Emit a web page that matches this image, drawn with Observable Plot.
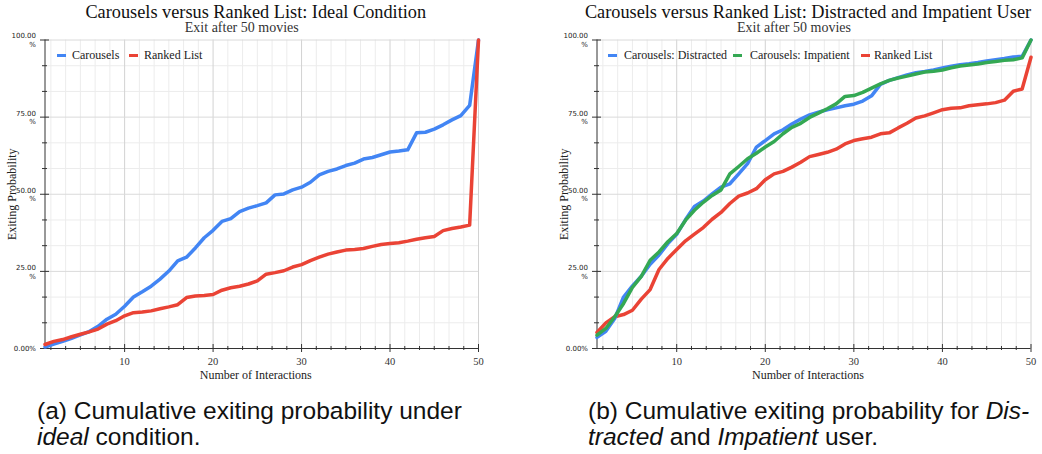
<!DOCTYPE html>
<html><head><meta charset="utf-8">
<script src="https://cdn.jsdelivr.net/npm/d3@7"></script>
<script src="https://cdn.jsdelivr.net/npm/@observablehq/plot@0.6"></script>
<style>
body{margin:0;background:#fff;}
#wrap{position:relative;width:1042px;height:454px;overflow:hidden;background:#fff;}
.chart{position:absolute;top:0;}
.lg{position:absolute;font:12px/14px "Liberation Serif",serif;color:#222;white-space:nowrap;}
.sw{position:absolute;height:3px;width:9px;}
.cap{position:absolute;font:24.5px/26px "Liberation Sans",Arial,sans-serif;color:#111;white-space:nowrap;}
</style></head><body><div id="wrap">
<div id="left" class="chart" style="left:0"></div>
<div id="right" class="chart" style="left:520px"></div>
<div id="legends"></div>
<div class="cap" style="left:37px;top:398px">(a) Cumulative exiting probability under<br><i>ideal</i> condition.</div>
<div class="cap" style="left:588px;top:398px">(b) Cumulative exiting probability for <i>Dis-</i><br><i>tracted</i> and <i>Impatient</i> user.</div>
</div>
<script>
const interactions = [1,2,3,4,5,6,7,8,9,10,11,12,13,14,15,16,17,18,19,20,21,22,23,24,25,26,27,28,29,30,31,32,33,34,35,36,37,38,39,40,41,42,43,44,45,46,47,48,49,50];

const idealCarousels = [0.5,1.4,2.3,3.3,4.4,5.5,7.2,9.5,11.1,13.7,
  16.7,18.4,20.2,22.5,25.1,28.4,29.6,32.6,35.9,38.3,
  41.2,42.1,44.4,45.5,46.3,47.2,49.8,50.1,51.4,52.3,
  53.9,56.3,57.4,58.2,59.3,60.1,61.4,61.9,62.8,63.7,
  64.0,64.4,69.9,70.1,71.1,72.5,74.1,75.5,78.8,100];
const idealRankedList = [1.3,2.3,2.9,3.8,4.6,5.4,6.3,7.9,9.0,10.6,
  11.6,11.8,12.2,12.9,13.5,14.2,16.5,17.0,17.2,17.5,
  18.9,19.7,20.2,20.9,21.9,24.1,24.6,25.2,26.4,27.2,
  28.5,29.6,30.6,31.3,31.9,32.1,32.4,33.1,33.7,34.0,
  34.3,34.8,35.4,35.9,36.3,38.2,38.9,39.4,40.0,100];

const distractedCarousels = [3.6,5.6,9.7,16.7,20.3,23.4,27.3,30.3,34.0,37.0,
  41.8,46.0,47.8,50.1,52.3,53.4,56.6,59.9,65.3,67.4,
  69.6,70.9,72.8,74.4,75.7,76.6,77.4,78.0,78.7,79.2,
  80.2,81.9,85.6,86.9,87.8,88.7,89.4,89.8,90.3,90.9,
  91.5,92.0,92.3,92.7,93.2,93.6,94.0,94.5,94.7,100];
const impatientCarousels = [4.3,6.5,10.3,14.6,19.8,23.4,28.6,31.3,34.6,37.3,
  41.6,44.8,47.4,49.6,51.4,56.6,59.0,61.5,63.3,65.3,
  67.1,69.6,71.7,73.0,74.9,76.3,77.7,79.3,81.7,82.0,
  83.0,84.4,85.8,86.9,87.7,88.3,89.0,89.6,89.9,90.3,
  91.0,91.6,91.9,92.2,92.7,93.0,93.4,93.6,94.2,100];
const userRankedList = [5.2,8.3,10.3,11.0,12.4,16.0,19.1,25.6,29.2,32.1,
  34.9,37.1,39.2,41.9,44.1,47.0,49.4,50.4,51.8,54.7,
  56.6,57.4,58.8,60.4,62.2,62.9,63.6,64.6,66.3,67.4,
  68.0,68.5,69.6,69.9,71.5,73.0,74.7,75.4,76.4,77.4,
  77.9,78.0,78.7,79.0,79.3,79.7,80.5,83.4,84.1,94.4];

const xTicks = [10,20,30,40,50];
const xMinor = d3.range(5/3, 50, 5/3).filter(v => Math.abs(v/10 - Math.round(v/10)) > 1e-6);
const yTicks = [0,25,50,75,100];
const yTickLabels = ["0.00%","25.00\n%","50.00\n%","75.00\n%","100.00\n%"];
const yMinor = [8.333,16.667,33.333,41.667,58.333,66.667,83.333,91.667];

const titles = ["Carousels versus Ranked List: Ideal Condition", "Carousels versus Ranked List: Distracted and Impatient User"];
const subtitle = "Exit after 50 movies";
const xLabel = "Number of Interactions";
const yLabel = "Exiting Probability";

const colors = {blue: "#4285F4", red: "#EA4335", green: "#34A853"};

function series(ys) { return interactions.map((x, i) => ({x, y: ys[i]})); }
function line(ys, color) {
  return Plot.line(series(ys), {x: "x", y: "y", stroke: color, strokeWidth: 3.5, strokeLinejoin: "round"});
}

function chart({width, marginLeft, marginRight, title, lines}) {
  return Plot.plot({
    width, height: 390, marginLeft, marginRight, marginTop: 39.5, marginBottom: 42,
    x: {domain: [1, 50]},
    y: {domain: [0, 100]},
    style: {fontFamily: '"Liberation Serif", serif', background: "transparent", color: "#222", overflow: "visible"},
    marks: [
      Plot.gridX(xMinor, {stroke: "#ececec", strokeOpacity: 1}),
      Plot.gridY(yMinor, {stroke: "#ececec", strokeOpacity: 1}),
      Plot.gridX(xTicks, {stroke: "#d2d2d2", strokeOpacity: 1}),
      Plot.gridY(yTicks, {stroke: "#dadada", strokeOpacity: 1}),
      Plot.ruleX([1], {stroke: "#333"}),
      Plot.ruleY([0], {stroke: "#333"}),
      Plot.axisY(yMinor, {tickSize: 5, dx: 2.5, fill: "none", stroke: "#333", label: null}),
      Plot.axisY(yTicks, {tickSize: 9, dx: 4.5, fill: "none", stroke: "#333", label: null}),
      Plot.axisY(yTicks, {stroke: "none", tickSize: 0, tickPadding: 9, tickFormat: v => yTickLabels[yTicks.indexOf(v)],
        fontFamily: "DejaVu Sans", fontSize: 7, lineHeight: 1.25, fill: "#222", label: null}),
      Plot.axisX(xMinor, {tickSize: 4, dy: -2, fill: "none", stroke: "#333", label: null}),
      Plot.axisX(xTicks, {tickSize: 8, dy: -4, fill: "none", stroke: "#333", label: null}),
      Plot.axisX(xTicks, {stroke: "none", tickSize: 0, tickPadding: 9, fontSize: 10.5, fill: "#333", label: null}),
      Plot.text([yLabel], {text: d => d, frameAnchor: "left", textAnchor: "middle", lineAnchor: "middle", rotate: -90, dx: -32.5, fontSize: 12, fill: "#222"}),
      Plot.text([xLabel], {text: d => d, frameAnchor: "bottom", textAnchor: "middle", lineAnchor: "middle", dx: -6, dy: 27, fontSize: 12, fill: "#222"}),
      Plot.text([title], {text: d => d, frameAnchor: "top", textAnchor: "middle", lineAnchor: "middle", dx: -6, dy: -27.5, fontSize: 18.3, fill: "#111"}),
      Plot.text([subtitle], {text: d => d, frameAnchor: "top", textAnchor: "middle", lineAnchor: "middle", dx: -20, dy: -12, fontSize: 14, fill: "#333"}),
      ...lines
    ]
  });
}

document.getElementById("left").append(chart({
  width: 520, marginLeft: 44.5, marginRight: 42, title: titles[0],
  lines: [line(idealCarousels, colors.blue), line(idealRankedList, colors.red)]
}));
document.getElementById("right").append(chart({
  width: 522, marginLeft: 76.5, marginRight: 11.5, title: titles[1],
  lines: [line(userRankedList, colors.red), line(distractedCarousels, colors.blue), line(impatientCarousels, colors.green)]
}));

const legendItems = [
  {label: "Carousels", color: colors.blue, sx: 57, tx: 72},
  {label: "Ranked List", color: colors.red, sx: 129, tx: 144},
  {label: "Carousels: Distracted", color: colors.blue, sx: 608, tx: 624},
  {label: "Carousels: Impatient", color: colors.green, sx: 733, tx: 750},
  {label: "Ranked List", color: colors.red, sx: 861, tx: 874}
];
const lgWrap = document.getElementById("legends");
for (const it of legendItems) {
  const sw = document.createElement("div");
  sw.className = "sw"; sw.style.left = it.sx + "px"; sw.style.top = "53.5px"; sw.style.background = it.color;
  const t = document.createElement("div");
  t.className = "lg"; t.style.left = it.tx + "px"; t.style.top = "48px"; t.textContent = it.label;
  lgWrap.append(sw, t);
}
</script>
</body></html>
